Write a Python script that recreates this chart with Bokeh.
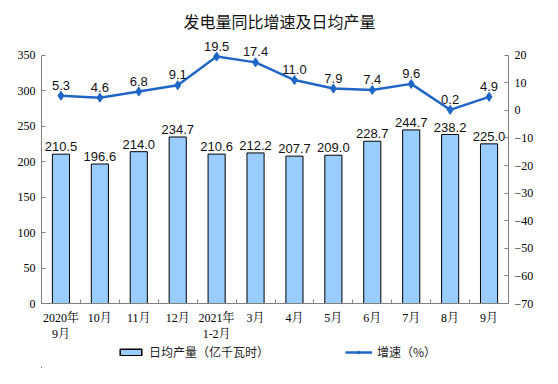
from bokeh.plotting import figure
from bokeh.layouts import column
from bokeh.models import (Range1d, LinearAxis, FixedTicker, ColumnDataSource,
                          LabelSet, Label, Legend, LegendItem)
from bokeh.embed import file_html
from bokeh.resources import INLINE
from bokeh.core.properties import value

# ---- data ----
months = ["2020年\n9月", "10月", "11月", "12月", "2021年\n1-2月", "3月", "4月",
          "5月", "6月", "7月", "8月", "9月"]
output = [210.5, 196.6, 214.0, 234.7, 210.6, 212.2, 207.7, 209.0, 228.7, 244.7, 238.2, 225.0]
growth = [5.3, 4.6, 6.8, 9.1, 19.5, 17.4, 11.0, 7.9, 7.4, 9.6, 0.2, 4.9]
left_ticks = [0, 50, 100, 150, 200, 250, 300, 350]
right_ticks = [-70, -60, -50, -40, -30, -20, -10, 0, 10, 20]
title_text = "发电量同比增速及日均产量"
bar_label = "日均产量（亿千瓦时）"
line_label = "增速（%）"

BAR = "#99CCFF"
LINE = "#1F66C7"
AXIS = "#808080"
SERIF = "Liberation Serif, Noto Serif CJK SC, Noto Sans CJK SC"
SANS = "Liberation Sans"
CJK = "Noto Sans CJK SC"

xs = list(range(len(months)))
src = ColumnDataSource(dict(
    x=xs, v=output, vt=[f"{v:.1f}" for v in output],
    g=growth, gt=[f"{v:.1f}" for v in growth],
))

p = figure(width=549, height=344,
           x_range=Range1d(-0.5, len(months) - 0.5),
           y_range=Range1d(0, 414.4),
           output_backend="svg", toolbar_location=None,
           min_border_left=41, min_border_right=41,
           min_border_top=9, min_border_bottom=39)
p.outline_line_color = None
p.xgrid.visible = False
p.ygrid.visible = False
p.extra_y_ranges = {"pct": Range1d(-70, 36.56)}

# left axis
ya = p.yaxis[0]
ya.ticker = FixedTicker(ticks=left_ticks)
ya.bounds = (0, 350)
ya.major_tick_in = 4
ya.major_tick_out = 0
ya.minor_tick_line_color = None
ya.axis_line_color = AXIS
ya.major_tick_line_color = AXIS
ya.major_label_text_font = SERIF
ya.major_label_text_font_size = "12px"
ya.major_label_text_color = "black"
ya.major_label_standoff = 6

# right axis
ra = LinearAxis(y_range_name="pct", ticker=FixedTicker(ticks=right_ticks), bounds=(-70, 20))
ra.major_tick_in = 4
ra.major_tick_out = 0
ra.minor_tick_line_color = None
ra.axis_line_color = AXIS
ra.major_tick_line_color = AXIS
ra.major_label_text_font = SERIF
ra.major_label_text_font_size = "12px"
ra.major_label_text_color = "black"
ra.major_label_standoff = 6
p.add_layout(ra, "right")

# x axis
xa = p.xaxis[0]
xa.ticker = FixedTicker(ticks=xs, minor_ticks=[i - 0.5 for i in range(len(months) + 1)])
xa.major_label_overrides = {i: m for i, m in zip(xs, months)}
xa.major_tick_line_color = None
xa.minor_tick_in = 4
xa.minor_tick_out = 0
xa.minor_tick_line_color = AXIS
xa.axis_line_color = AXIS
xa.major_label_text_font = SERIF
xa.major_label_text_font_size = "12px"
xa.major_label_text_color = "black"
xa.major_label_standoff = 1

bars = p.vbar(x="x", top="v", width=0.44, source=src, fill_color=BAR,
              line_color="black", line_width=1)
ln = p.line(x="x", y="g", source=src, y_range_name="pct", line_color=LINE, line_width=2.5)
sc = p.scatter(x="x", y="g", source=src, y_range_name="pct", marker="diamond",
               size=9, fill_color=LINE, line_color=LINE)

p.add_layout(LabelSet(x="x", y="v", text="vt", source=src, text_align="center",
                      text_baseline="bottom", y_offset=3, text_font=value(SANS),
                      text_font_size="13px", text_color="#111111"))
p.add_layout(LabelSet(x="x", y="g", text="gt", source=src, y_range_name="pct",
                      text_align="center", text_baseline="bottom", y_offset=6,
                      text_font=value(SANS), text_font_size="13px", text_color="#111111"))

p.add_layout(Label(x=5.616, y=397.6, text=title_text, text_align="center",
                   text_baseline="middle", text_font=CJK,
                   text_font_size="16px", text_color="#111111"))

# ---- legend strip (same styles; its data lies outside this strip's ranges) ----
lg = figure(width=549, height=24, x_axis_type=None, y_axis_type=None,
            x_range=Range1d(100, 101), y_range=Range1d(1000, 1001),
            output_backend="svg", toolbar_location=None,
            min_border_left=0, min_border_right=0, min_border_top=0, min_border_bottom=0)
lg.outline_line_color = None
lg.xgrid.visible = False
lg.ygrid.visible = False
lb = lg.vbar(x="x", top="v", width=0.44, source=src, fill_color=BAR,
             line_color="black", line_width=1.5)
ll = lg.line(x="x", y="g", source=src, line_color=LINE, line_width=2.5)
ls = lg.scatter(x="x", y="g", source=src, marker="diamond", size=9,
                fill_color=LINE, line_color=LINE)
legend = Legend(items=[LegendItem(label=bar_label, renderers=[lb]),
                       LegendItem(label=line_label, renderers=[ll, ls])],
                orientation="horizontal", location=(76, 8),
                glyph_width=27, glyph_height=8, spacing=76, label_standoff=5,
                label_height=14, label_text_baseline="middle",
                label_text_font=CJK, label_text_font_size="12px",
                label_text_color="#222222",
                border_line_color=None, background_fill_alpha=0,
                padding=0, margin=0)
lg.add_layout(legend, "center")

open("out.html", "w").write(file_html(column(p, lg), INLINE))
